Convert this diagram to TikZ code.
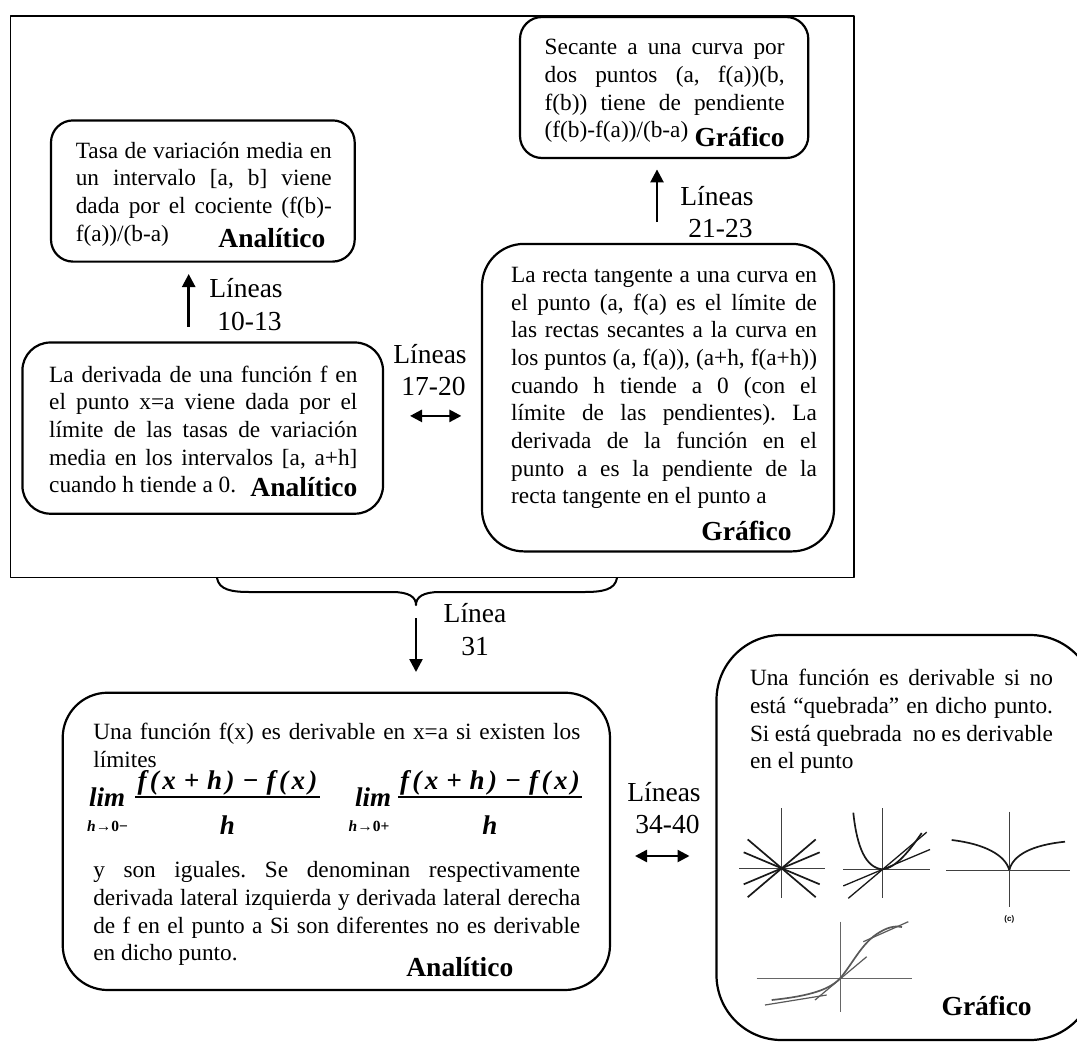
\documentclass[tikz,border=0pt]{standalone}
\usepackage{fontspec}
\setmainfont{Liberation Serif}
\newfontfamily\tinysans{Liberation Sans}
\usetikzlibrary{arrows.meta}

% paragraph settings for the justified text blocks
\tolerance=9999
\hbadness=10000
\hyphenpenalty=10000
\exhyphenpenalty=10000
\frenchspacing

\tikzset{
  frame/.style={draw, line width=1.5pt, inner sep=0pt, outer sep=0pt},
  rbox/.style={draw, line width=2.2pt, inner sep=0pt, outer sep=0pt},
  body/.style={inner sep=0pt, outer sep=0pt, anchor=north west, align=justify,
    font=\fontsize{23.3}{27.7}\selectfont},
  tag/.style={inner sep=0pt, outer sep=0pt, anchor=base east,
    font=\fontsize{27.5}{30}\selectfont\bfseries},
  lab/.style={inner sep=0pt, outer sep=0pt, anchor=north, align=center,
    font=\fontsize{27.5}{32.5}\selectfont},
  link/.style={line width=2.5pt, -{Triangle[length=13pt,width=13pt]}},
  dlink/.style={line width=2.5pt,
    {Triangle[length=12pt,width=12pt]}-{Triangle[length=12pt,width=12pt]}},
  mathbig/.style={inner sep=0pt, outer sep=0pt,
    font=\fontsize{27}{30}\selectfont\bfseries\itshape},
  mathsub/.style={inner sep=0pt, outer sep=0pt, anchor=base,
    font=\fontsize{15.5}{17}\selectfont\bfseries},
  axis/.style={line width=1pt, black!75},
  ray/.style={line width=1.7pt, black!90},
  soft/.style={line width=1.7pt, black!65},
}

\begin{document}
\begin{tikzpicture}[x=1pt, y=-1pt, line join=round]
\useasboundingbox (0,0) rectangle (1077,1045);
\clip (0,0) rectangle (1077,1045);

% ---------- upper frame with four boxes ----------
\node[frame, minimum width=843.4pt, minimum height=561.7pt] (frame) at (432.3,296.65) {};

\node[rbox, rounded corners=22pt, minimum width=303.7pt, minimum height=141.2pt] (boxA) at (202.85,191) {};
\node[rbox, rounded corners=28pt, minimum width=360.6pt, minimum height=171.2pt] (boxB) at (202.7,428.1) {};
\node[rbox, rounded corners=22pt, minimum width=288.3pt, minimum height=141pt] (boxS) at (664.15,87.5) {};
\node[rbox, rounded corners=42pt, minimum width=352pt, minimum height=307.5pt] (boxC) at (658,397.65) {};

\node[body, text width=256pt] (tA) at (75.8,138.8) {\strut Tasa de variación media en\linebreak
un intervalo [a, b] viene\linebreak dada por el cociente (f(b)-\linebreak f(a))/(b-a)};
\node[tag] (gA) at (325.4,247.6) {Analítico};

\node[body, text width=308.2pt] (tB) at (49.2,362.8) {\strut La derivada de una función f en\linebreak
el punto x=a viene dada por el\linebreak límite de las tasas de variación\linebreak
media en los intervalos [a, a+h]\linebreak cuando h tiende a 0.};
\node[tag] (gB) at (357.4,496) {Analítico};

\node[body, text width=239.9pt] (tS) at (544.7,35.3) {\strut Secante a una curva por\linebreak
dos puntos (a, f(a))(b,\linebreak f(b)) tiene de pendiente\linebreak (f(b)-f(a))/(b-a)};
\node[tag] (gS) at (784.6,146.8) {Gráfico};

\node[body, text width=305.8pt] (tC) at (511.2,263) {\strut La recta tangente a una curva en\linebreak
el punto (a, f(a) es el límite de\linebreak las rectas secantes a la curva en\linebreak
los puntos (a, f(a)), (a+h, f(a+h))\linebreak cuando h tiende a 0 (con el\linebreak
límite de las pendientes). La\linebreak derivada de la función en el\linebreak
punto a es la pendiente de la\linebreak recta tangente en el punto a};
\node[tag] (gC) at (791.5,540.8) {Gráfico};

% connectors inside the frame
\coordinate (aAfrom) at (188.7,326.7);   \coordinate (aAto) at (188.7,274);
\draw[link] (aAfrom) -- (aAto);
\node[lab] (lA) at (246,274.8) {\strut Líneas\\\strut\ 10-13};

\coordinate (aSfrom) at (657,222);   \coordinate (aSto) at (657,169.4);
\draw[link] (aSfrom) -- (aSto);
\node[lab] (lS) at (717,182.5) {\strut Líneas\\\strut\ 21-23};

\coordinate (dBl) at (410,415.9);      \coordinate (dBr) at (461.4,415.9);
\draw[dlink] (dBl) -- (dBr);
\node[lab] (lB) at (430,340.6) {\strut Líneas\\\strut\ 17-20};

% ---------- brace under the frame ----------
\coordinate (brL) at (217,578);
\coordinate (brR) at (617,578);
\coordinate (brTip) at (416,605);
\draw[line width=2pt] (brL) .. controls (219,590) and (232,592) .. (250,592) -- (392,592)
  .. controls (409,592) and (416,597) .. (brTip)
  .. controls (416,597) and (423,592) .. (440,592) -- (584,592)
  .. controls (602,592) and (615,590) .. (brR);

\coordinate (a31from) at (416,618);  \coordinate (a31to) at (416,672);
\draw[link] (a31from) -- (a31to);
\node[lab] (l31) at (475,599.8) {\strut Línea\\\strut 31};

% ---------- lower left box: one-sided limits ----------
\node[rbox, rounded corners=45pt, minimum width=547.3pt, minimum height=297.3pt] (boxE) at (336.35,841.35) {};

\node[body, text width=487pt] (tE1) at (93.3,720) {\strut Una función f(x) es derivable en x=a si existen los\linebreak límites};

\node[mathbig, anchor=base west] (lim1) at (89,806) {lim};
\node[mathsub] (sub1) at (107.5,831.7) {\itshape h\upshape→0−};
\node[mathbig, anchor=base] (num1) at (227.5,789.5)
  {\makebox[180pt][s]{f\hfil(\hfil x\hfil\,+\,\hfil h\hfil)\hfil\,−\,\hfil f\hfil(\hfil x\hfil)}};
\draw[line width=1.4pt] (135,797) -- (320,797);
\node[mathbig, anchor=base] (den1) at (227.5,834.5) {h};

\node[mathbig, anchor=base west] (lim2) at (355,806) {lim};
\node[mathsub] (sub2) at (369,831.7) {\itshape h\upshape→0+};
\node[mathbig, anchor=base] (num2) at (490,789.5)
  {\makebox[180pt][s]{f\hfil(\hfil x\hfil\,+\,\hfil h\hfil)\hfil\,−\,\hfil f\hfil(\hfil x\hfil)}};
\draw[line width=1.4pt] (398,797) -- (582,797);
\node[mathbig, anchor=base] (den2) at (490,834.5) {h};

\node[body, text width=487pt] (tE2) at (93.3,858.3) {\strut y son iguales. Se denominan respectivamente\linebreak
derivada lateral izquierda y derivada lateral derecha\linebreak
de f en el punto a Si son diferentes no es derivable\linebreak en dicho punto.};
\node[tag] (gE) at (513.3,976.7) {Analítico};

\coordinate (dEl) at (635,856);      \coordinate (dEr) at (689.5,856);
\draw[dlink] (dEl) -- (dEr);
\node[lab] (lE) at (664,778.5) {\strut Líneas\\\strut\ 34-40};

% ---------- lower right box: pictures of (non)differentiable points ----------
\node[rbox, rounded corners=65pt, minimum width=378.5pt, minimum height=405pt] (boxD) at (905.75,837.5) {};

\node[body, text width=303pt] (tD) at (750,666.3) {\strut Una función es derivable si no\linebreak
está “quebrada” en dicho punto.\linebreak Si está quebrada \ no es derivable\linebreak en el punto};
\node[tag] (gD) at (1031.7,1015) {Gráfico};

% graph 1: several lines through a point
\draw[axis] (739,868.3) -- (825,868.3);
\draw[axis] (781.7,808) -- (781.7,898.3);
\draw[ray] (747.7,839.4) -- (815.7,897.2);
\draw[ray] (815.7,839.4) -- (747.7,897.2);
\draw[ray] (743.7,852.3) -- (819.7,884.3);
\draw[ray] (819.7,852.3) -- (743.7,884.3);

% graph 2: curve with several secants/tangents at the same point
\draw[axis] (843.3,869.3) -- (930,869.3);
\draw[axis] (882.7,808.3) -- (882.7,898.3);
\draw[ray] (853.3,812.7) .. controls (857,848) and (866,868) .. (882.7,869.3)
  .. controls (896,868) and (910,850) .. (921.7,833);
\draw[ray, line width=1.3pt] (848.3,898.3) -- (926.7,832.2);
\draw[ray, line width=1.3pt] (843.3,885.9) -- (930,849.5);

% graph 3: cusp
\draw[axis] (946,870) -- (1070,870);
\draw[axis] (1009.3,811.7) -- (1009.3,906.7);
\draw[ray] (951.7,840) .. controls (985,844) and (1005,855) .. (1009.3,870);
\draw[ray] (1009.3,870) .. controls (1013,855) and (1032,845) .. (1065,841.7);
\node[font=\fontsize{8}{9}\selectfont\tinysans\bfseries, inner sep=0pt] (cLab) at (1009.3,919.3) {(c)};

% graph 4: S-shaped curve with tangents
\draw[axis, black!60] (756.7,978.3) -- (911.7,978.3);
\draw[axis, black!60] (840,921.7) -- (840,1011.7);
\draw[soft] (771.7,1000) .. controls (800,997) and (828,992) .. (840,978.3)
  .. controls (852,965) and (862,942) .. (880,932) .. controls (890,926) and (897,926) .. (902,927);
\draw[soft, line width=1.2pt] (765,1005) -- (826.7,995);
\draw[soft, line width=1.2pt] (815,1000) -- (866.7,956.7);
\draw[soft, line width=1.2pt] (863.3,941.7) -- (908.3,921.7);
\end{tikzpicture}
\end{document}
